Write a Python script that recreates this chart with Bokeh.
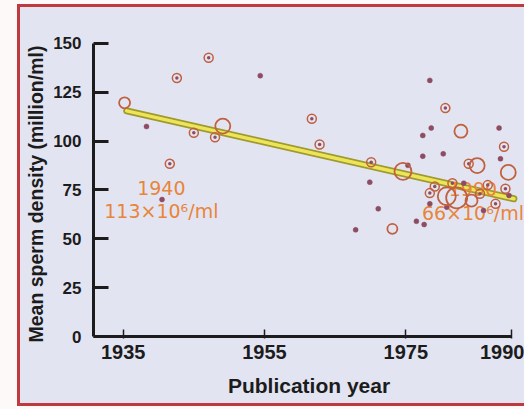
from bokeh.plotting import figure
from bokeh.models import FixedTicker, Range1d, ColumnDataSource, Title
from bokeh.core.properties import value
from bokeh.embed import file_html
from bokeh.resources import INLINE

# ---------------- data ----------------
x_ticks = [1935, 1955, 1975, 1990]
y_ticks = [0, 25, 50, 75, 100, 125, 150]

# small studies (plain dots)
dot_years = [1938.3, 1940.5, 1954.4, 1978.4, 1977.4, 1978.6, 1988.2, 1977.4, 1980.3,
             1975.3, 1969.9, 1988.4, 1971.1, 1967.9, 1976.5, 1977.6, 1978.4, 1980.8,
             1989.6, 1986.0, 1983.2]
dot_values = [107.5, 70.1, 133.5, 131.1, 102.9, 106.7, 106.7, 92.3, 93.5,
              87.6, 79.0, 91.0, 65.4, 54.6, 59.0, 57.3, 67.9, 66.2,
              72.2, 64.5, 78.5]

# small studies (ring with centre dot)
small_years = [1942.6, 1947.1, 1941.6, 1945.0, 1948.0, 1962.8, 1980.6, 1970.1, 1988.9,
               1983.9, 1978.4, 1979.1, 1985.5, 1989.1, 1987.7, 1961.7, 1981.6, 1986.6]
small_values = [132.3, 142.7, 88.4, 104.3, 102.0, 98.3, 116.9, 89.2, 97.1,
                88.4, 73.4, 76.8, 73.1, 75.6, 67.9, 111.5, 78.5, 77.5]

# larger studies (open rings, diameter ~ study size)
ring_years = [1935.2, 1949.1, 1973.1, 1974.6, 1985.1, 1989.5, 1982.2, 1980.8, 1982.8, 1984.3]
ring_values = [119.6, 107.7, 55.1, 84.5, 87.5, 84.0, 71.0, 71.8, 105.1, 69.5]
ring_size = [11, 15, 10, 17, 15, 15, 21, 18, 13, 12]

# regression line
reg_years = [1935.5, 1990.3]
reg_values = [115.5, 70.5]

# annotations
ann_years = [1940.4, 1940.4, 1984.5, 1984.5]
ann_values = [75.8, 64.0, 75.3, 63.0]
ann_texts = ["1940", "113×10⁶/ml", "1990", "66×10⁶/ml"]

# ---------------- styles ----------------
LAV = "#E3E4F2"
RED = "#BE3A3E"
INK = "#1c1c1c"
DOT = "#8E4C62"
RING = "#C0603F"
ORANGE = "#E8853A"

p = figure(width=524, height=409,
           x_range=Range1d(1930.8, 1991.8), y_range=Range1d(0, 163.8),
           output_backend="svg", toolbar_location=None,
           min_border_left=93, min_border_right=0, min_border_top=16, min_border_bottom=73)

p.border_fill_color = None
p.background_fill_color = LAV
p.outline_line_color = None
p.grid.visible = False

g = f"linear-gradient({RED},{RED})"
p.styles = {
    "background": (
        f"{g} 17px 4px / 3px 402px no-repeat, "
        f"{g} 17px 4px / 507px 3px no-repeat, "
        f"{g} 17px 403px / 507px 3px no-repeat, "
        f"linear-gradient({LAV},{LAV}) 17px 4px / 507px 402px no-repeat, "
        "#FDF9F9"
    )
}

# axes
xa = p.xaxis[0]
xa.ticker = FixedTicker(ticks=x_ticks)
xa.bounds = (1930.8, 1990)
xa.axis_line_width = 3
xa.axis_line_color = INK
xa.major_tick_in = 7
xa.major_tick_out = 2
xa.major_tick_line_width = 1.5
xa.major_tick_line_color = INK
xa.minor_tick_line_color = None
xa.major_label_text_font = "Liberation Sans"
xa.major_label_text_font_style = "bold"
xa.major_label_text_font_size = "20px"
xa.major_label_text_color = INK
xa.major_label_standoff = 6
xa.axis_label = "Publication year"
xa.axis_label_text_font = "Liberation Sans"
xa.axis_label_text_font_style = "bold"
xa.axis_label_text_font_size = "21px"
xa.axis_label_text_color = INK
xa.axis_label_standoff = 12

ya = p.yaxis[0]
ya.ticker = FixedTicker(ticks=y_ticks)
ya.bounds = (0, 150)
ya.axis_line_width = 3
ya.axis_line_color = INK
ya.major_tick_in = 15
ya.major_tick_out = 0
ya.major_tick_line_width = 3
ya.major_tick_line_color = INK
ya.minor_tick_line_color = None
ya.major_label_text_font = "Liberation Sans"
ya.major_label_text_font_style = "bold"
ya.major_label_text_font_size = "17px"
ya.major_label_text_color = INK
ya.major_label_standoff = 12

# y-axis title (placed as a side title so that it can sit low, as in the original)
ytitle = Title(text="Mean sperm density (million/ml)", align="left", offset=-6,
               text_font="Liberation Sans", text_font_style="bold",
               text_font_size="19.5px", text_color=INK, standoff=8)
p.add_layout(ytitle, "left")

# regression line
p.line(reg_years, reg_values, line_width=7, line_color="#9E9A2C", line_cap="round")
p.line(reg_years, reg_values, line_width=3.5, line_color="#EDE45A", line_cap="round")

# annotation texts
ann = ColumnDataSource(dict(x=ann_years, y=ann_values, t=ann_texts))
p.text(x="x", y="y", text="t", source=ann, text_font=value("DejaVu Sans"),
       text_font_size="19px", text_color=ORANGE, text_align="center",
       text_baseline="middle")

# points
p.scatter(dot_years, dot_values, size=5, fill_color=DOT, line_color=DOT, line_alpha=0.5)
small = ColumnDataSource(dict(x=small_years, y=small_values))
p.scatter(x="x", y="y", source=small, size=9, fill_color=None, line_color=RING, line_width=1.5)
p.scatter(x="x", y="y", source=small, size=3.5, fill_color=DOT, line_color=None)
rings = ColumnDataSource(dict(x=ring_years, y=ring_values, s=ring_size))
p.scatter(x="x", y="y", size="s", source=rings, fill_color=None, line_color=RING, line_width=1.8)

open("out.html", "w").write(file_html(p, INLINE))
